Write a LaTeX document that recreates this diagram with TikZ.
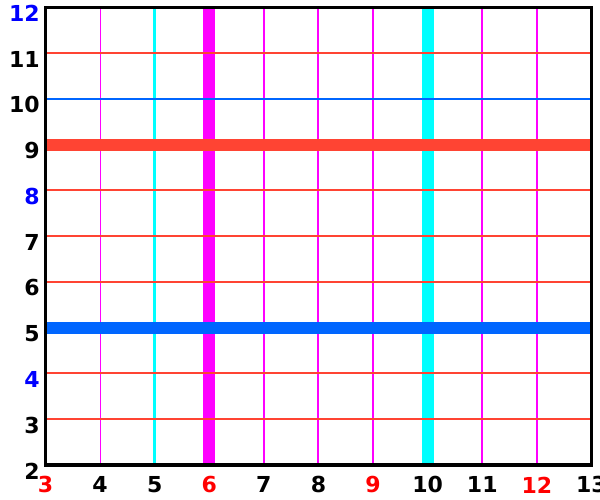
\documentclass[tikz,border=0pt]{standalone}
\usepackage{fontspec}
\setmainfont{DejaVu Sans}
\usetikzlibrary{positioning}
\definecolor{gridred}{HTML}{FF4433}
\definecolor{gridblue}{HTML}{0066FF}
\definecolor{gridmag}{HTML}{FF00FF}
\definecolor{gridcyan}{HTML}{00FFFF}
\definecolor{labred}{HTML}{FF0000}
\definecolor{labblue}{HTML}{0000FF}

\begin{document}
\begin{tikzpicture}[x=40.95pt, y=34.31pt,
    ticklab/.style={font=\bfseries\fontsize{16.5}{16.5}\selectfont, inner sep=0pt}]
    \useasboundingbox (2.167,1.235) rectangle (13.156,12.164);
    % vertical lines
    \draw[gridmag, line width=0.75pt] (4,2) -- (4,12);
    \draw[gridcyan, line width=2.6pt] (5,2) -- (5,12);
    \foreach \x in {7,8,9,11,12}
        \draw[gridmag, line width=1.5pt] (\x,2) -- (\x,12);
    \draw[gridmag, line width=9pt] (6,2) -- (6,12);
    \draw[gridcyan, line width=9pt] (10,2) -- (10,12);
    % horizontal lines
    \foreach \y in {3,4,6,7,8,11}
        \draw[gridred, line width=1.5pt] (3,\y) -- (13,\y);
    \draw[gridblue, line width=1.5pt] (3,10) -- (13,10);
    \draw[gridred, line width=9pt] (3,9) -- (13,9);
    \draw[gridblue, line width=9pt] (3,5) -- (13,5);
    % frame
    \draw[black, line width=2.6pt] (3,2) rectangle (13,12);
    % tick labels
    \foreach \x in {4,5,7,8,10,11,13}
        \node[ticklab] (xl\x) at (\x,1.563) {\x};
    \foreach \x in {3,6,9,12}
        \node[ticklab, labred] (xl\x) at (\x,1.563) {\x};
    \foreach \y in {2,3,5,6,7,9,10,11}
        \node[ticklab, anchor=east] (yl\y) at (2.9,\y-0.13) {\y};
    \foreach \y in {4,8,12}
        \node[ticklab, anchor=east, labblue] (yl\y) at (2.9,\y-0.13) {\y};
\end{tikzpicture}
\end{document}
